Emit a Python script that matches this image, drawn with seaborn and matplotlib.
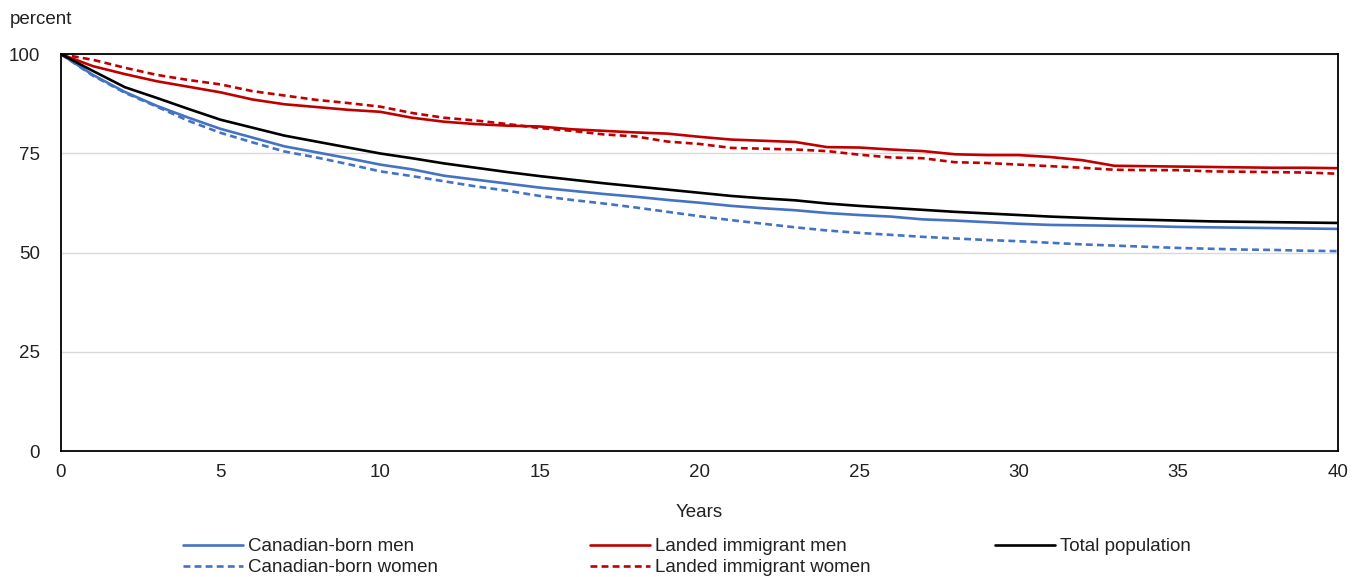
import pandas as pd
import seaborn as sns
import matplotlib.pyplot as plt
from matplotlib.lines import Line2D

years = list(range(0, 41))

cb_men = [100, 94.8, 90.5, 87.0, 84.0, 81.2, 79.0, 76.8, 75.3, 73.8,
          72.2, 71.0, 69.4, 68.4, 67.4, 66.4, 65.6, 64.8, 64.1, 63.3,
          62.6, 61.8, 61.2, 60.7, 60.0, 59.5, 59.1, 58.4, 58.1, 57.7,
          57.3, 57.0, 56.9, 56.8, 56.7, 56.5, 56.4, 56.3, 56.2, 56.1, 56.0]
cb_women = [100, 94.6, 90.3, 86.8, 83.2, 80.2, 77.8, 75.5, 74.0, 72.3,
            70.5, 69.3, 68.0, 66.7, 65.6, 64.3, 63.3, 62.4, 61.4, 60.3,
            59.2, 58.2, 57.3, 56.4, 55.6, 55.0, 54.5, 54.0, 53.6, 53.2,
            52.9, 52.5, 52.1, 51.8, 51.5, 51.2, 51.0, 50.8, 50.7, 50.5, 50.4]
im_men = [100, 97.0, 95.0, 93.2, 91.8, 90.4, 88.6, 87.4, 86.7, 86.0,
          85.5, 84.0, 83.0, 82.4, 82.0, 81.8, 81.1, 80.7, 80.3, 80.0,
          79.2, 78.5, 78.2, 77.9, 76.6, 76.5, 76.0, 75.6, 74.8, 74.6,
          74.6, 74.1, 73.3, 71.9, 71.8, 71.7, 71.6, 71.5, 71.4, 71.4, 71.3]
im_women = [100, 98.6, 96.6, 94.8, 93.5, 92.4, 90.7, 89.6, 88.5, 87.7,
            86.8, 85.2, 84.0, 83.3, 82.4, 81.4, 80.7, 79.8, 79.3, 78.0,
            77.4, 76.4, 76.2, 76.0, 75.6, 74.7, 74.0, 73.8, 72.8, 72.6,
            72.2, 71.8, 71.4, 70.9, 70.8, 70.8, 70.5, 70.4, 70.3, 70.2, 69.9]
total = [100, 95.8, 91.7, 89.0, 86.2, 83.5, 81.5, 79.5, 78.0, 76.5,
         75.0, 73.8, 72.5, 71.4, 70.3, 69.3, 68.4, 67.5, 66.7, 65.9,
         65.1, 64.3, 63.7, 63.2, 62.4, 61.8, 61.3, 60.8, 60.3, 59.9,
         59.5, 59.1, 58.8, 58.5, 58.3, 58.1, 57.9, 57.8, 57.7, 57.6, 57.5]

labels = ["Canadian-born men", "Canadian-born women", "Landed immigrant men",
          "Landed immigrant women", "Total population"]
series = [cb_men, cb_women, im_men, im_women, total]

frames = []
for lab, vals in zip(labels, series):
    frames.append(pd.DataFrame({"Years": years, "percent": vals, "group": lab}))
df = pd.concat(frames, ignore_index=True)

sns.set_theme(style="white")
plt.rcParams['font.family'] = ['Liberation Sans', 'DejaVu Sans']

blue = "#4472C4"
red = "#C00000"
palette = {labels[0]: blue, labels[1]: blue, labels[2]: red, labels[3]: red, labels[4]: "black"}
dash_pat = (2.6, 1.6)
dashes = {labels[0]: "", labels[1]: dash_pat, labels[2]: "", labels[3]: dash_pat, labels[4]: ""}
lw = 1.9
fs = 13.5

fig, ax = plt.subplots(figsize=(13.61, 5.77), dpi=100)
fig.subplots_adjust(left=0.0448, right=0.983, top=0.906, bottom=0.218)

sns.lineplot(data=df, x="Years", y="percent", hue="group", style="group",
             hue_order=labels, style_order=labels, palette=palette, dashes=dashes,
             linewidth=lw, ax=ax, legend=False)

ax.set_xlim(0, 40)
ax.set_ylim(0, 100)
ax.set_xticks(range(0, 41, 5))
ax.set_yticks([0, 25, 50, 75, 100])
ax.yaxis.grid(True, color="#d9d9d9", linewidth=1)
ax.set_axisbelow(True)
for s in ax.spines.values():
    s.set_color("black")
    s.set_linewidth(1.3)
ax.tick_params(axis="x", direction="in", length=4, width=1, color="black",
               labelsize=fs, pad=9, labelcolor="#222222")
ax.tick_params(axis="y", length=0, labelsize=fs, pad=15, labelcolor="#222222")
ax.set_xlabel("Years", fontsize=fs, labelpad=17, color="#222222")
ax.set_ylabel("")
fig.text(10 / 1361, 1 - 20 / 577, "percent", fontsize=fs, color="#222222",
         ha="left", va="center")


def handle(lab):
    return Line2D([], [], color=palette[lab], linewidth=lw,
                  linestyle="-" if dashes[lab] == "" else (0, dash_pat))


# three legend columns placed at the reference positions
columns = [(183, [labels[0], labels[1]]), (590, [labels[2], labels[3]]), (995, [labels[4]])]
for x0, labs in columns:
    leg = fig.legend([handle(l) for l in labs], labs, loc="upper left",
                     bbox_to_anchor=(x0 / 1361, 1 - 538 / 577), frameon=False,
                     fontsize=fs, handlelength=3.2, handletextpad=0.25,
                     labelspacing=0.22, borderpad=0, borderaxespad=0)
    for t in leg.get_texts():
        t.set_color("#222222")

plt.savefig("out.png", dpi=100)
